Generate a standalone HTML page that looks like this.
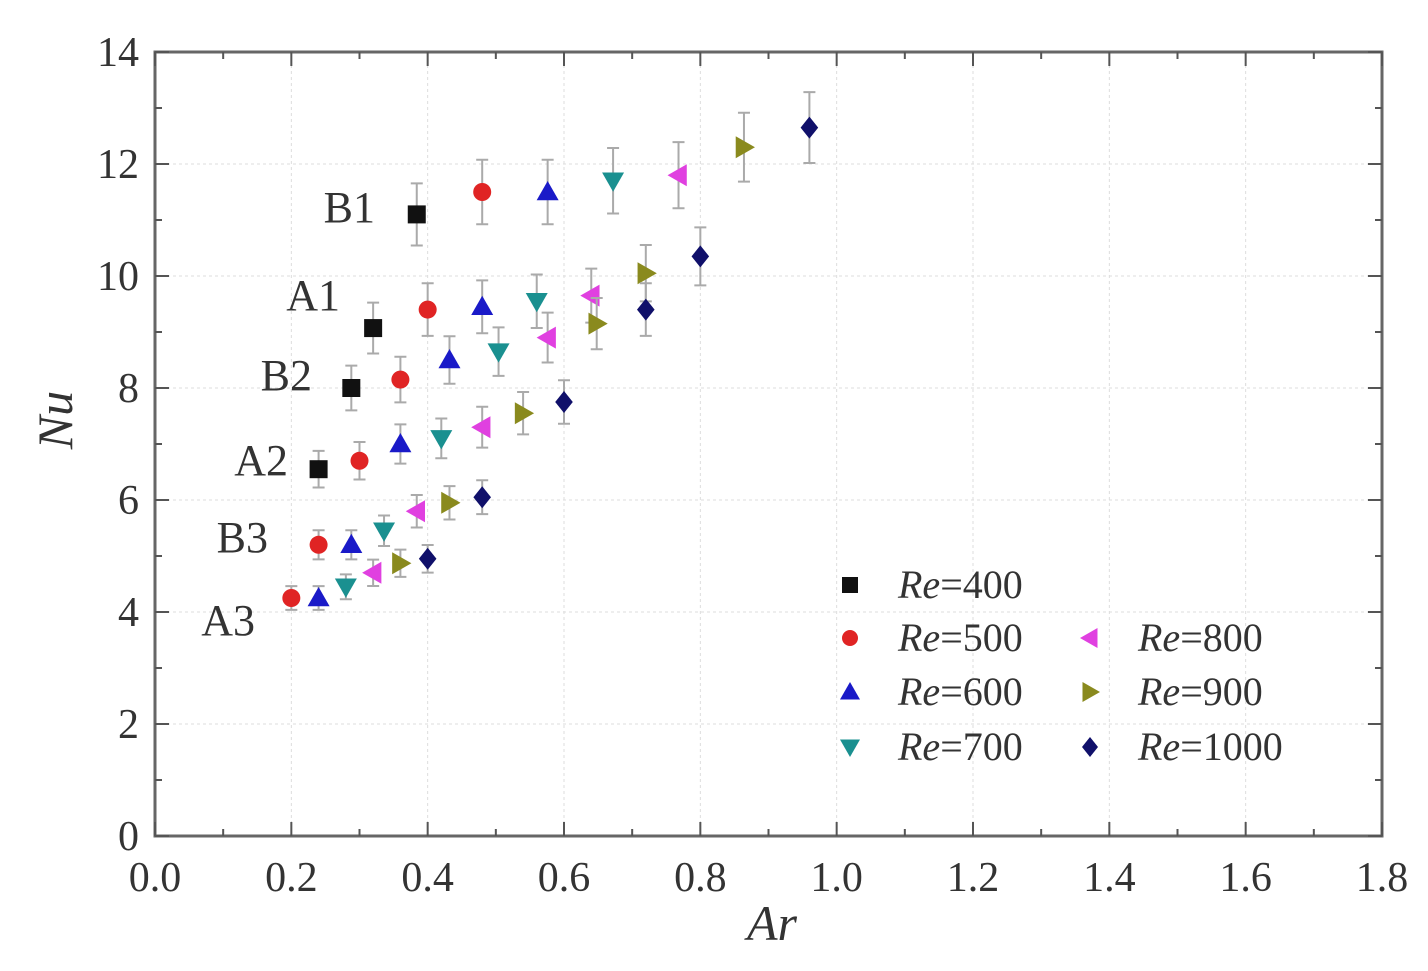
<!DOCTYPE html>
<html><head><meta charset="utf-8"><style>
body{margin:0;background:#fff}
svg text{font-family:"Liberation Serif","DejaVu Serif",serif;fill:#333}
</style></head><body>
<svg id="chart" width="1428" height="966" xmlns="http://www.w3.org/2000/svg"></svg>
<script>
const xTicks=[0.0,0.2,0.4,0.6,0.8,1.0,1.2,1.4,1.6,1.8];
const yTicks=[0,2,4,6,8,10,12,14];
const seriesNames=["Re=400","Re=500","Re=600","Re=700","Re=800","Re=900","Re=1000"];
const ar400=[0.24,0.288,0.32,0.384];
const nu400=[6.55,8.0,9.07,11.1];
const ar500=[0.2,0.24,0.30,0.36,0.40,0.48];
const nu500=[4.25,5.2,6.7,8.15,9.4,11.5];
const ar600=[0.24,0.288,0.36,0.432,0.48,0.576];
const nu600=[4.25,5.2,7.0,8.5,9.45,11.5];
const ar700=[0.28,0.336,0.42,0.504,0.56,0.672];
const nu700=[4.45,5.45,7.1,8.65,9.55,11.7];
const ar800=[0.32,0.384,0.48,0.576,0.64,0.768];
const nu800=[4.7,5.8,7.3,8.9,9.65,11.8];
const ar900=[0.36,0.432,0.54,0.648,0.72,0.864];
const nu900=[4.87,5.95,7.55,9.15,10.05,12.3];
const ar1000=[0.40,0.48,0.60,0.72,0.80,0.96];
const nu1000=[4.95,6.05,7.75,9.4,10.35,12.65];
const errPct=[0.05,0.05,0.05,0.05,0.05,0.05,0.05];
const groupLabels=["B1","A1","B2","A2","B3","A3"];

const X0=155,X1=1382,Y0=836,Y1=52;
const xs=v=>X0+(v-0)/(1.8)*(X1-X0);
const ys=v=>Y0-(v/14)*(Y0-Y1);
const svg=document.getElementById('chart');
const NS="http://www.w3.org/2000/svg";
function mk(tag,attrs,parent){const e=document.createElementNS(NS,tag);for(const k in attrs)e.setAttribute(k,attrs[k]);(parent||svg).appendChild(e);return e;}

xTicks.forEach((t,i)=>{if(i===0)return;const l=mk('line',{x1:xs(t),x2:xs(t),y1:Y0,y2:Y1,stroke:'#ddd','stroke-width':1,'stroke-dasharray':'3,3'});

});
yTicks.forEach((t,i)=>{if(i===0)return;const l=mk('line',{x1:X0,x2:X1,y1:ys(t),y2:ys(t),stroke:'#ddd','stroke-width':1,'stroke-dasharray':'3,3'});

});
const fr=mk('rect',{x:X0,y:Y1,width:X1-X0,height:Y0-Y1,fill:'none',stroke:'#666','stroke-width':3});


xTicks.forEach((t,i)=>{
 mk('line',{x1:xs(t),x2:xs(t),y1:Y0,y2:Y0-14,stroke:'#555','stroke-width':2});
 mk('line',{x1:xs(t),x2:xs(t),y1:Y1,y2:Y1+14,stroke:'#555','stroke-width':2});
 if(i<xTicks.length-1){const m=t+0.1;mk('line',{x1:xs(m),x2:xs(m),y1:Y0,y2:Y0-7,stroke:'#555','stroke-width':2});mk('line',{x1:xs(m),x2:xs(m),y1:Y1,y2:Y1+7,stroke:'#555','stroke-width':2});}
 const tx=mk('text',{x:xs(t),y:Y0+55,'text-anchor':'middle','font-size':42});tx.textContent=t.toFixed(1);
 
 
});
yTicks.forEach((t,i)=>{
 mk('line',{x1:X0,x2:X0+14,y1:ys(t),y2:ys(t),stroke:'#555','stroke-width':2});
 mk('line',{x1:X1,x2:X1-14,y1:ys(t),y2:ys(t),stroke:'#555','stroke-width':2});
 if(i<yTicks.length-1){const m=t+1;mk('line',{x1:X0,x2:X0+7,y1:ys(m),y2:ys(m),stroke:'#555','stroke-width':2});mk('line',{x1:X1,x2:X1-7,y1:ys(m),y2:ys(m),stroke:'#555','stroke-width':2});}
 const ty=mk('text',{x:X0-16,y:ys(t)+14,'text-anchor':'end','font-size':42});ty.textContent=String(t);
 
 
});
const xt=mk('text',{x:772,y:940,'text-anchor':'middle','font-size':50,'font-style':'italic'});xt.textContent='Ar';


const yt=mk('text',{x:72,y:420,'text-anchor':'middle','font-size':50,'font-style':'italic',transform:'rotate(-90 72 420)'});yt.textContent='Nu';



const colors=['#111','#e02424','#1a1ac8','#1a9090','#e040e0','#8a8a1e','#10106a'];
const shapes=['square','circle','up','down','left','right','diamond'];
function marker(shape,cx,cy,c,r){
 r=r||11;let e;
 if(shape==='square')e=mk('rect',{x:cx-r+2,y:cy-r+2,width:2*r-4,height:2*r-4,fill:c});
 else if(shape==='circle')e=mk('circle',{cx:cx,cy:cy,r:r-2,fill:c});
 else{let p;
  if(shape==='up')p=[[cx,cy-r],[cx+r,cy+r*0.75],[cx-r,cy+r*0.75]];
  if(shape==='down')p=[[cx,cy+r],[cx+r,cy-r*0.75],[cx-r,cy-r*0.75]];
  if(shape==='left')p=[[cx-r,cy],[cx+r*0.75,cy-r],[cx+r*0.75,cy+r]];
  if(shape==='right')p=[[cx+r,cy],[cx-r*0.75,cy-r],[cx-r*0.75,cy+r]];
  if(shape==='diamond')p=[[cx,cy-r],[cx+r*0.8,cy],[cx,cy+r],[cx-r*0.8,cy]];
  e=mk('polygon',{points:p.map(q=>q.join(',')).join(' '),fill:c});}
 return e;
}
const allAr=[ar400,ar500,ar600,ar700,ar800,ar900,ar1000];
const allNu=[nu400,nu500,nu600,nu700,nu800,nu900,nu1000];
allAr.forEach((arr,s)=>{
 arr.forEach((a,i)=>{
  const v=allNu[s][i],e=v*errPct[s];
  const cx=xs(a);
  const eb=mk('path',{d:`M${cx},${ys(v+e)}V${ys(v-e)}M${cx-6},${ys(v+e)}H${cx+6}M${cx-6},${ys(v-e)}H${cx+6}`,stroke:'#aaa','stroke-width':2,fill:'none'});
  
  
  const m=marker(shapes[s],cx,ys(v),colors[s]);
  
  
 });
});
const labelPos=[[375,222],[340,310],[312,390],[288,475],[268,552],[255,635]];
groupLabels.forEach((g,i)=>{
 const t=mk('text',{x:labelPos[i][0],y:labelPos[i][1],'text-anchor':'end','font-size':44});t.textContent=g;
 
 
});
const legPos=[[850,585],[850,638],[850,692],[850,747],[1090,638],[1090,692],[1090,747]];
seriesNames.forEach((n,s)=>{
 const [lx,ly]=legPos[s];
 const g=mk('g',{});
 
 
 const m=marker(shapes[s],lx,ly,colors[s],10);g.appendChild(m);
 const t=mk('text',{x:lx+48,y:ly+13,'font-size':40},g);
 t.innerHTML='<tspan font-style="italic">Re</tspan>='+n.split('=')[1];
});
</script>
</body></html>
